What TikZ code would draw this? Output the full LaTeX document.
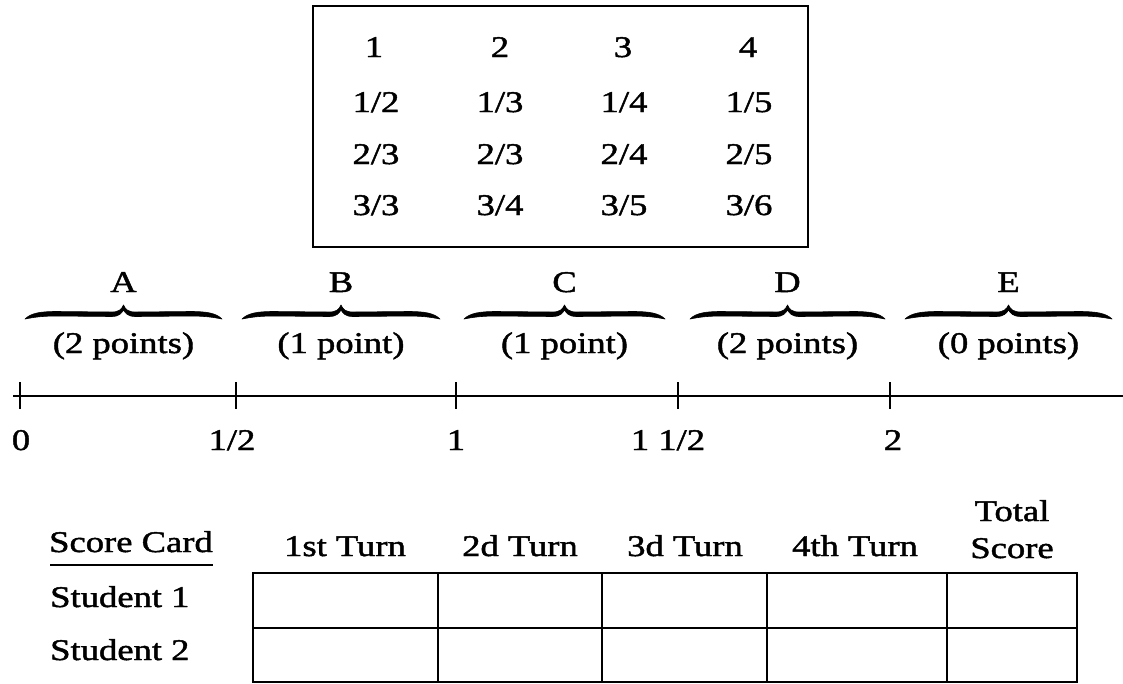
\documentclass[tikz,border=0pt]{standalone}
\usepackage{fontspec}
\setmainfont{Liberation Serif}[FakeStretch=1.22,FakeBold=1.5]
\usetikzlibrary{decorations.pathreplacing}
\begin{document}
\begin{tikzpicture}[x=1pt,y=-1pt,
  num/.style={font=\fontsize{30}{34}\selectfont, inner sep=0pt, anchor=base},
  lbl/.style={font=\fontsize{30}{35}\selectfont, inner sep=0pt, anchor=base},
  card/.style={font=\fontsize{30}{34}\selectfont, inner sep=0pt, anchor=base},
  bracefill/.style={fill=black, draw=black, line width=0.6pt, line join=round},
  rule/.style={line width=2pt}]
\useasboundingbox (0,0) rectangle (1123,683);
% top box
\draw[line width=2.5pt] (313,6) rectangle (808,247);
\node[num] (r1c1) at (374,57) {1};
\node[num] (r1c2) at (500,57) {2};
\node[num] (r1c3) at (623,57) {3};
\node[num] (r1c4) at (748,57) {4};
\node[num] (r2c1) at (376,112) {1/2};
\node[num] (r2c2) at (500,112) {1/3};
\node[num] (r2c3) at (624,112) {1/4};
\node[num] (r2c4) at (749,112) {1/5};
\node[num] (r3c1) at (376,164) {2/3};
\node[num] (r3c2) at (500,164) {2/3};
\node[num] (r3c3) at (624,164) {2/4};
\node[num] (r3c4) at (749,164) {2/5};
\node[num] (r4c1) at (376,215) {3/3};
\node[num] (r4c2) at (500,215) {3/4};
\node[num] (r4c3) at (624,215) {3/5};
\node[num] (r4c4) at (749,215) {3/6};
% braces
\foreach \n/\a/\b/\L/\P in {A/25/222/A/(2 points), B/242/440/B/(1 point), C/464/665/C/(1 point), D/690/885/D/(2 points), E/905/1112/E/(0 points)}{
  \pgfmathsetmacro\w{\b-\a}
  \pgfmathsetmacro\m{(\a+\b)/2}
  \coordinate (\n1) at (\a,319);
  \coordinate (\n2) at (\b,319);
  \coordinate (\n t) at (\m,305);
  \fill[bracefill] (\n1)
     .. controls (\a+0.03*\w,313) and (\a+0.08*\w,311.5) .. (\a+0.16*\w,311.5)
     -- (\m-0.07*\w,312)
     .. controls (\m-0.02*\w,312.5) and (\m-0.01*\w,309) .. (\n t)
     .. controls (\m+0.01*\w,309) and (\m+0.02*\w,312.5) .. (\m+0.07*\w,312)
     -- (\b-0.16*\w,311.5)
     .. controls (\b-0.08*\w,311.5) and (\b-0.03*\w,313) .. (\n2)
     .. controls (\b-0.04*\w,317.5) and (\b-0.08*\w,316) .. (\b-0.16*\w,316)
     -- (\m+0.06*\w,316.5)
     .. controls (\m+0.02*\w,316.5) and (\m+0.01*\w,313) .. (\m,310)
     .. controls (\m-0.01*\w,313) and (\m-0.02*\w,316.5) .. (\m-0.06*\w,316.5)
     -- (\a+0.16*\w,316)
     .. controls (\a+0.08*\w,316) and (\a+0.04*\w,317.5) .. cycle;
  \node[lbl] (lab\n) at (\m,292) {\L};
  \node[lbl] (pts\n) at (\m,353) {\P};
}
% axis
\coordinate (axL) at (13,396);
\coordinate (axR) at (1123,396);
\draw[rule] (axL) -- (axR);
\foreach \n/\x/\t/\tx in {0/20/{0}/21, 1/236/{1/2}/232, 2/456/{1}/456, 3/678/{1 1/2}/668, 4/890/{2}/893}{
  \coordinate (tk\n) at (\x,396);
  \draw[rule] (tk\n) ++(0,-14) -- ++(0,27);
  \node[lbl] (tl\n) at (\tx,450) {\t};
}
% score card
\node[card] (sc) at (131,552) {Score Card};
\coordinate (ul1) at (50,565);
\coordinate (ul2) at (213,565);
\draw[line width=1.5pt] (ul1) -- (ul2);
\node[card, anchor=base west] (s1) at (50,607) {Student 1};
\node[card, anchor=base west] (s2) at (50,660) {Student 2};
\node[card] (h1) at (345,556) {1st Turn};
\node[card] (h2) at (520,556) {2d Turn};
\node[card] (h3) at (685,556) {3d Turn};
\node[card] (h4) at (855,556) {4th Turn};
\node[card] (h5a) at (1012,521) {Total};
\node[card] (h5) at (1012,558) {Score};
\coordinate (tl) at (253,573);
\coordinate (br) at (1077,682);
\draw[rule] (tl) rectangle (br);
\draw[rule] (253,628) -- (1077,628);
\foreach \x in {438,602,767,947}{
  \draw[rule] (\x,573) -- (\x,682);
}
\end{tikzpicture}
\end{document}
